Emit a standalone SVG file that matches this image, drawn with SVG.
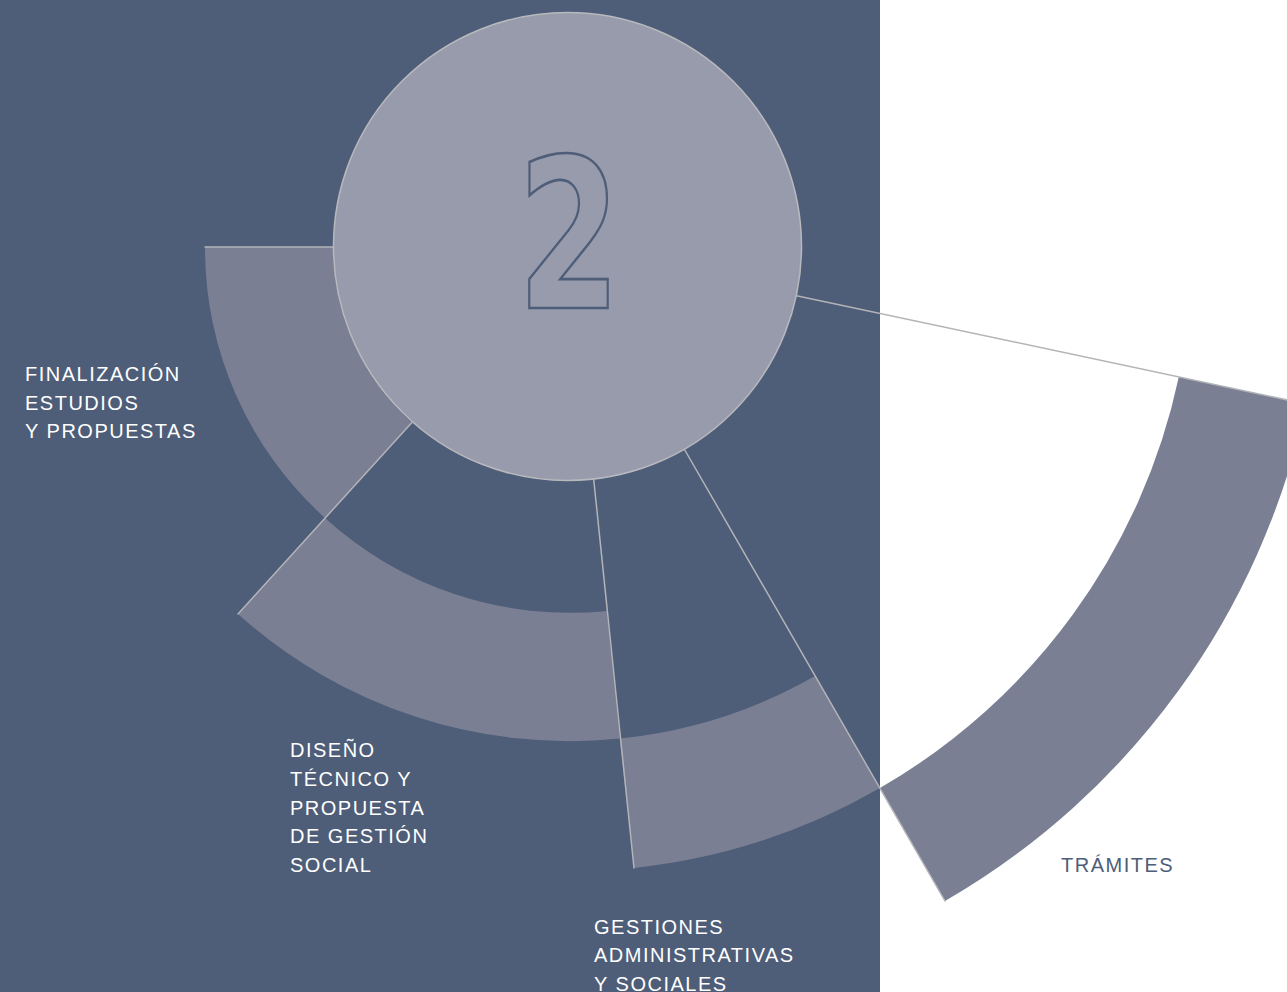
<svg xmlns="http://www.w3.org/2000/svg" width="1287" height="992" viewBox="0 0 1287 992">
  <style>
    .wedge { fill: #7a7f94; }
    .conn { stroke: #b3b4b8; stroke-width: 1.5; fill: none; stroke-linecap: round; }
    .lbl { font-family: "Liberation Sans", Arial, sans-serif; font-size: 20px; letter-spacing: 1.5px; fill: #ffffff; }
    .lbl-dark { fill: #4e5d78; }
    .num { font-family: "DejaVu Sans Condensed", "Liberation Sans", sans-serif; font-weight: bold; font-size: 215px; fill: none; stroke: #4e5d78; stroke-width: 2.8; }
  </style>
  <rect x="0" y="0" width="1287" height="992" fill="#ffffff"/>
  <rect id="panel" x="0" y="0" width="880" height="992" fill="#4e5d78"/>

  <g id="wedge-finalizacion">
    <path class="wedge" d="M 333.5,247 L 205,247 A 363 363 0 0 0 325,518 L 411.7,422.7 A 234 234 0 0 1 333.5,247 Z"/>
  </g>
  <g id="wedge-diseno">
    <path class="wedge" d="M 325,518 L 238,614 A 494 494 0 0 0 619.8,738.5 L 606.7,611 A 364 364 0 0 1 325,518 Z"/>
  </g>
  <g id="wedge-gestiones">
    <path class="wedge" d="M 619.8,738.5 L 634,868 A 625 625 0 0 0 880,788 L 815,676 A 495 495 0 0 1 619.8,738.5 Z"/>
  </g>
  <g id="wedge-tramites">
    <path class="wedge" d="M 880,788 L 945,901 A 755 755 0 0 0 1306,404 L 1178.8,377 A 625 625 0 0 1 880,788 Z"/>
  </g>

  <g id="connectors">
    <line class="conn" x1="333.5" y1="247" x2="205" y2="247"/>
    <line class="conn" x1="411.7" y1="422.7" x2="238" y2="614"/>
    <line class="conn" x1="593.7" y1="479.3" x2="634" y2="868"/>
    <line class="conn" x1="684.5" y1="449.5" x2="945" y2="901"/>
    <line class="conn" x1="796.5" y1="295.7" x2="1290" y2="400.5"/>
  </g>

  <g id="hub">
    <circle cx="567.5" cy="246.5" r="234" fill="#979bac" stroke="#b8b9bd" stroke-width="1.5"/>
    <text class="num" transform="translate(569,308) scale(0.766,0.969)" x="0" y="0" text-anchor="middle">2</text>
  </g>

  <g id="label-finalizacion">
    <text class="lbl" x="25" y="381">FINALIZACIÓN<tspan x="25" dy="28.5">ESTUDIOS</tspan><tspan x="25" dy="28.5">Y PROPUESTAS</tspan></text>
  </g>
  <g id="label-diseno">
    <text class="lbl" x="290" y="757">DISEÑO<tspan x="290" dy="28.75">TÉCNICO Y</tspan><tspan x="290" dy="28.75">PROPUESTA</tspan><tspan x="290" dy="28.75">DE GESTIÓN</tspan><tspan x="290" dy="28.75">SOCIAL</tspan></text>
  </g>
  <g id="label-gestiones">
    <text class="lbl" x="594" y="933.5">GESTIONES<tspan x="594" dy="28.5">ADMINISTRATIVAS</tspan><tspan x="594" dy="28.5">Y SOCIALES</tspan></text>
  </g>
  <g id="label-tramites">
    <text class="lbl lbl-dark" x="1061" y="872">TRÁMITES</text>
  </g>
</svg>
